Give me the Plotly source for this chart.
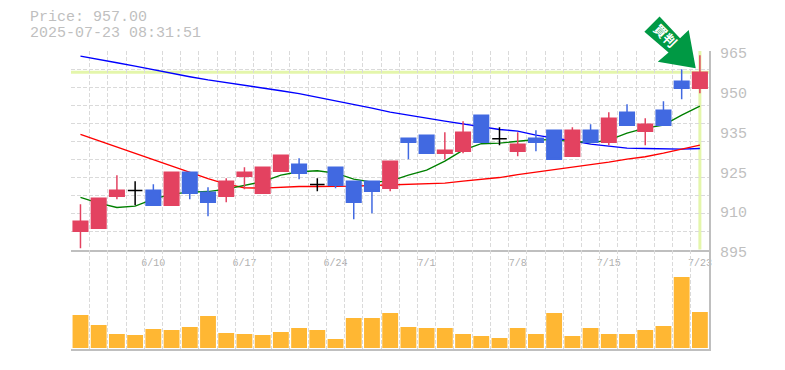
import plotly.graph_objects as go

DATES = ["6/4","6/5","6/6","6/9","6/10","6/11","6/12","6/13","6/16","6/17","6/18","6/19","6/20","6/23","6/24","6/25","6/26","6/27","6/30","7/1","7/2","7/3","7/4","7/7","7/8","7/9","7/10","7/11","7/14","7/15","7/16","7/17","7/18","7/22","7/23"]
OPEN = [901.35,902.4,913.6,915.6,915.7,910.45,922,915,913.6,920.6,914.65,922.35,924.8,917.7,923.75,918.85,918.85,916.4,933.9,934.95,928.65,929.35,941.95,933.65,929.35,933.9,936.7,927.6,936.7,932.5,943,936.35,943.7,953.85,951.4]
CLOSE = [904.85,912.9,915.7,915.6,910.45,922,914.65,911.5,918.85,922,923.75,927.95,921.65,917.7,917.45,911.5,915.35,925.85,932.5,928.65,929.7,936,932.5,933.65,931.8,932.5,926.55,936.7,932.5,940.9,938.45,938.8,938.45,951.4,957]
HIGH = [910.8,912.9,920.95,918.85,917.8,922,922,916.75,919.9,923.75,923.75,927.95,926.9,919.9,923.75,918.85,918.85,925.85,933.9,934.95,936,939.85,941.95,937.75,936,936.7,936.7,937.75,938.8,943,945.8,940.9,946.85,958.05,962.95]
LOW = [895.4,902.4,912.55,910.45,910.45,910.45,912.55,906.6,911.5,916.05,914.65,922.35,919.55,915.35,916.4,905.55,907.65,915.35,926.55,928.65,926.55,928.65,932.5,931.45,927.6,929.35,926.55,927.6,932.5,931.45,938.45,931.45,938.45,947.55,949.65]
MA_LONG = [962.6,961.55,960.3,959.1,957.85,956.5,955.4,954.3,953.4,952.45,951.6,950.5,949.5,948.25,947.1,945.8,944.4,943,941.85,940.9,939.85,938.8,937.75,936.95,936.35,934.95,933.9,933,931.8,931.1,930.4,930.3,930.25,930.05,930.3]
MA_MID = [935.2,933,930.75,928.5,926.3,924.1,921.85,919.75,917.8,916.55,916.4,916.75,917,917,917,917.1,917.3,917.45,917.7,917.9,918.15,918.85,919.4,920.1,921.15,922,922.7,923.6,924.45,925.5,926.55,927.4,928.65,930.05,931.45]
MA_SHORT = [913.15,911.15,909.65,910.1,912.55,914.3,915,915.2,916.05,917.25,918.7,920.95,922.15,922.5,921.65,919.55,918.5,918.85,920.95,922.7,925.85,929.7,931.95,932.15,932.85,933.4,933.2,932.85,932.35,933.2,935.65,937.4,938.45,941.95,945.1]
VOLUME = [3300,2300,1400,1300,1900,1800,2100,3200,1500,1400,1300,1600,2000,1800,900,3000,3000,3500,2100,2000,2000,1400,1200,1000,2000,1400,3500,1200,2000,1400,1400,1800,2200,7100,3600]
Y_TICK_LABELS = ["965","950","935","925","910","895"]
Y_TICK_VALUES = [964.35,950.45,936.55,922.65,908.75,894.95]
X_LABEL_DATES = ["6/10","6/17","6/24","7/1","7/8","7/15","7/23"]
PRICE_TEXT = "Price: 957.00"
TIME_TEXT = "2025-07-23 08:31:51"
LAST_PRICE = 957.0
BADGE = "<b>買判</b>"

GREY = "#bfbfbf"
GRID = "#dadada"
RED = "#e34260"
BLUE = "#4169e1"
MONO = "Liberation Mono"
PALE = "#e4f6ab"

xs = list(range(len(DATES)))
doji = [i for i in xs if OPEN[i] == CLOSE[i]]
body = [i for i in xs if OPEN[i] != CLOSE[i]]
x_range = [-0.52, 34.5]
y_range = [894.925, 964.4]
x_ticks = [DATES.index(d) for d in X_LABEL_DATES]
PLOT_W = 638.5
PLOT_H = 298
def px(x):
    return (x - 70.5) / PLOT_W
def py(y):
    return (349 - y) / PLOT_H

fig = go.Figure()
for vals, col in ((MA_LONG, "#0000ff"), (MA_MID, "#ff0000"), (MA_SHORT, "#008000")):
    fig.add_trace(go.Scatter(x=xs, y=vals, mode="lines", line=dict(color=col, width=1.4),
                             xaxis="x", yaxis="y", showlegend=False))
fig.add_trace(go.Candlestick(
    x=body, open=[OPEN[i] for i in body], high=[HIGH[i] for i in body],
    low=[LOW[i] for i in body], close=[CLOSE[i] for i in body],
    increasing=dict(line=dict(color=RED, width=1.5), fillcolor=RED),
    decreasing=dict(line=dict(color=BLUE, width=1.5), fillcolor=BLUE),
    whiskerwidth=0, xaxis="x", yaxis="y3", showlegend=False))
fig.add_trace(go.Candlestick(
    x=doji, open=[OPEN[i] for i in doji], high=[HIGH[i] for i in doji],
    low=[LOW[i] for i in doji], close=[CLOSE[i] for i in doji],
    increasing=dict(line=dict(color="#000000", width=1.5), fillcolor="#000000"),
    decreasing=dict(line=dict(color="#000000", width=1.5), fillcolor="#000000"),
    whiskerwidth=0, xaxis="x", yaxis="y3", showlegend=False))
fig.add_trace(go.Bar(x=xs, y=VOLUME, width=0.87, marker=dict(color="#ffb733", line=dict(width=0)),
                     xaxis="x2", yaxis="y2", showlegend=False))

grid_minor = dict(showgrid=True, gridcolor=GRID, griddash="4px,2px", gridwidth=1, ticks="")
vol_top = 99.5 / PLOT_H

fig.update_layout(
    width=785, height=370, autosize=False,
    margin=dict(l=70.5, r=76, t=51, b=21, pad=0),
    plot_bgcolor="white", paper_bgcolor="white",
    showlegend=False, boxgap=0.2, boxgroupgap=0,
    bargap=0.13,
    xaxis=dict(domain=[0, 1], range=x_range, anchor="y", rangeslider=dict(visible=False), automargin=False,
               tickmode="array", tickvals=x_ticks, ticktext=X_LABEL_DATES,
               tickfont=dict(family=MONO, size=10, color="#b0b0b0"), ticklabelstandoff=2,
               showgrid=False, zeroline=False, ticks="", showline=True, linecolor=GREY, linewidth=2,
               minor=dict(tickmode="linear", tick0=-0.5, dtick=1, **grid_minor)),
    xaxis2=dict(domain=[0, 1], range=x_range, anchor="y2", showticklabels=False, automargin=False,
                showgrid=False, zeroline=False, ticks="", showline=True, linecolor=GREY, linewidth=2,
                minor=dict(tickmode="linear", tick0=-0.5, dtick=1, **grid_minor)),
    yaxis=dict(domain=[vol_top, 1], range=y_range, anchor="x", side="right", automargin=False,
               tickmode="array", tickvals=Y_TICK_VALUES, ticktext=Y_TICK_LABELS,
               tickfont=dict(family=MONO, size=15, color=GREY), ticklabelshift=2, ticklabelstandoff=6,
               showgrid=False, zeroline=False, ticks="", showline=True, linecolor=GREY, linewidth=2,
               minor=dict(tickmode="linear", tick0=894.925, dtick=69.475 / 11, **grid_minor)),
    yaxis2=dict(domain=[0, vol_top], range=[-100, 9850], anchor="x2", side="right", automargin=False,
                showticklabels=False, showgrid=False, zeroline=False, ticks="",
                showline=True, linecolor=GREY, linewidth=2),
    yaxis3=dict(domain=[vol_top, 1], range=y_range, overlaying="y", side="right", anchor="x", automargin=False,
                showticklabels=False, showgrid=False, zeroline=False, ticks="", showline=False),
    shapes=[
        dict(type="line", xref="x domain", yref="y", x0=0, x1=1, y0=LAST_PRICE, y1=LAST_PRICE,
             line=dict(color=PALE, width=3), layer="below"),
        dict(type="line", xref="x", yref="y domain", x0=xs[-1], x1=xs[-1], y0=0, y1=1,
             line=dict(color=PALE, width=3), layer="below"),
        dict(type="path", xref="paper", yref="paper", layer="above",
             path="M %.4f %.4f L %.4f %.4f L %.4f %.4f L %.4f %.4f L %.4f %.4f L %.4f %.4f L %.4f %.4f Z" % tuple(
                 v for a, b in [(659.5, 16.5), (644.3, 31.7), (668.5, 52.5), (657.7, 61.7),
                                (695.7, 68.3), (688.7, 30), (680, 38.3)]
                 for v in (px(a), py(b))),
             fillcolor="#009944", line=dict(width=0)),
    ],
    annotations=[
        dict(text=PRICE_TEXT, xref="paper", yref="paper", x=px(27.5), y=py(17.75),
             xanchor="left", yanchor="middle", showarrow=False,
             font=dict(family=MONO, size=15, color=GREY)),
        dict(text=TIME_TEXT, xref="paper", yref="paper", x=px(27.5), y=py(33.25),
             xanchor="left", yanchor="middle", showarrow=False,
             font=dict(family=MONO, size=15, color=GREY)),
        dict(text=BADGE, xref="paper", yref="paper", x=px(666), y=py(35),
             xanchor="center", yanchor="middle", showarrow=False, textangle=45,
             font=dict(family="Noto Sans CJK JP", size=13, color="white")),
    ],
)

fig.write_html("out.html", config=dict(displayModeBar=False),
               post_script="document.body.style.margin='0';")
